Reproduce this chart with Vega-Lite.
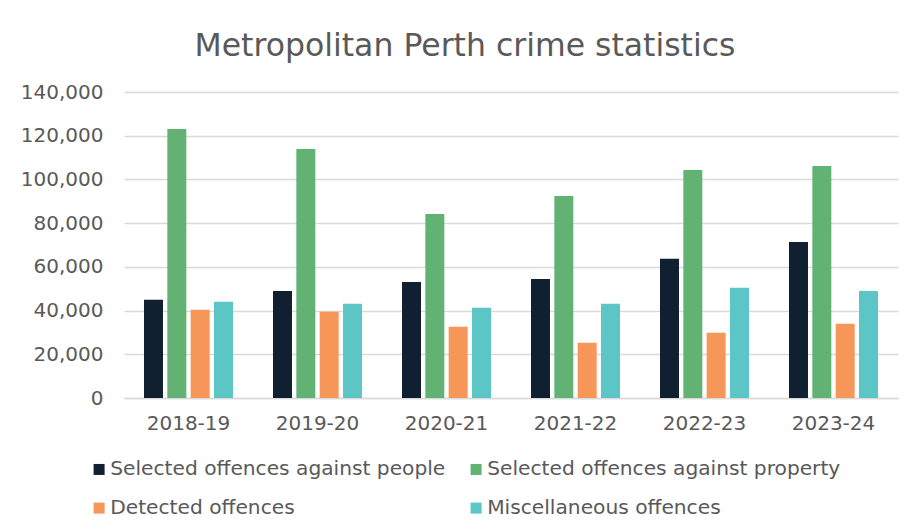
{
  "$schema": "https://vega.github.io/schema/vega-lite/v6.json",
  "width": 774,
  "height": 306,
  "autosize": {"type": "none"},
  "padding": {"left": 124, "top": 92, "right": 15, "bottom": 133},
  "background": "white",
  "title": {
    "text": "Metropolitan Perth crime statistics",
    "font": "DejaVu Sans",
    "fontSize": 31.5,
    "fontWeight": "normal",
    "color": "#595959",
    "anchor": "middle",
    "baseline": "alphabetic",
    "dx": -46,
    "offset": -5
  },
  "data": {
    "values": [
      {"year": "2018-19", "category": "Selected offences against people", "value": 45000},
      {"year": "2018-19", "category": "Selected offences against property", "value": 123100},
      {"year": "2018-19", "category": "Detected offences", "value": 40400},
      {"year": "2018-19", "category": "Miscellaneous offences", "value": 44000},
      {"year": "2019-20", "category": "Selected offences against people", "value": 49000},
      {"year": "2019-20", "category": "Selected offences against property", "value": 113900},
      {"year": "2019-20", "category": "Detected offences", "value": 39500},
      {"year": "2019-20", "category": "Miscellaneous offences", "value": 43100},
      {"year": "2020-21", "category": "Selected offences against people", "value": 53100},
      {"year": "2020-21", "category": "Selected offences against property", "value": 84200},
      {"year": "2020-21", "category": "Detected offences", "value": 32600},
      {"year": "2020-21", "category": "Miscellaneous offences", "value": 41300},
      {"year": "2021-22", "category": "Selected offences against people", "value": 54500},
      {"year": "2021-22", "category": "Selected offences against property", "value": 92400},
      {"year": "2021-22", "category": "Detected offences", "value": 25300},
      {"year": "2021-22", "category": "Miscellaneous offences", "value": 43100},
      {"year": "2022-23", "category": "Selected offences against people", "value": 63700},
      {"year": "2022-23", "category": "Selected offences against property", "value": 104300},
      {"year": "2022-23", "category": "Detected offences", "value": 29800},
      {"year": "2022-23", "category": "Miscellaneous offences", "value": 50400},
      {"year": "2023-24", "category": "Selected offences against people", "value": 71400},
      {"year": "2023-24", "category": "Selected offences against property", "value": 106200},
      {"year": "2023-24", "category": "Detected offences", "value": 34000},
      {"year": "2023-24", "category": "Miscellaneous offences", "value": 49000}
    ]
  },
  "mark": {"type": "bar"},
  "encoding": {
    "x": {
      "field": "year",
      "type": "nominal",
      "sort": null,
      "scale": {"paddingInner": 0.31, "paddingOuter": 0.155},
      "axis": {
        "title": null,
        "labelAngle": 0,
        "labelFont": "DejaVu Sans",
        "labelFontSize": 20,
        "labelColor": "#595959",
        "labelPadding": 15,
        "ticks": false,
        "domain": true,
        "domainColor": "#D9D9D9",
        "domainWidth": 1.5,
        "grid": false
      }
    },
    "xOffset": {
      "field": "category",
      "type": "nominal",
      "sort": ["Selected offences against people", "Selected offences against property", "Detected offences", "Miscellaneous offences"],
      "scale": {"paddingInner": 0.186, "paddingOuter": 0}
    },
    "y": {
      "field": "value",
      "type": "quantitative",
      "scale": {"domain": [0, 140000], "nice": false},
      "axis": {
        "title": null,
        "values": [0, 20000, 40000, 60000, 80000, 100000, 120000, 140000],
        "format": ",d",
        "labelFont": "DejaVu Sans",
        "labelFontSize": 20,
        "labelColor": "#595959",
        "labelPadding": 21,
        "ticks": false,
        "domain": false,
        "grid": true,
        "gridColor": "#D9D9D9",
        "gridWidth": 1.5
      }
    },
    "color": {
      "field": "category",
      "type": "nominal",
      "scale": {
        "domain": ["Selected offences against people", "Selected offences against property", "Detected offences", "Miscellaneous offences"],
        "range": ["#112030", "#62B373", "#F79659", "#5CC6C6"]
      },
      "legend": {
        "title": null,
        "orient": "none",
        "legendX": -35,
        "legendY": 367,
        "direction": "horizontal",
        "columns": 2,
        "columnPadding": 20,
        "rowPadding": 18,
        "symbolType": "square",
        "symbolSize": 121,
        "symbolStrokeWidth": 0,
        "symbolOffset": 0,
        "labelOffset": 1,
        "labelFont": "DejaVu Sans",
        "labelFontSize": 20.2,
        "labelColor": "#595959",
        "labelLimit": 500
      }
    }
  },
  "config": {
    "view": {"stroke": null}
  }
}
